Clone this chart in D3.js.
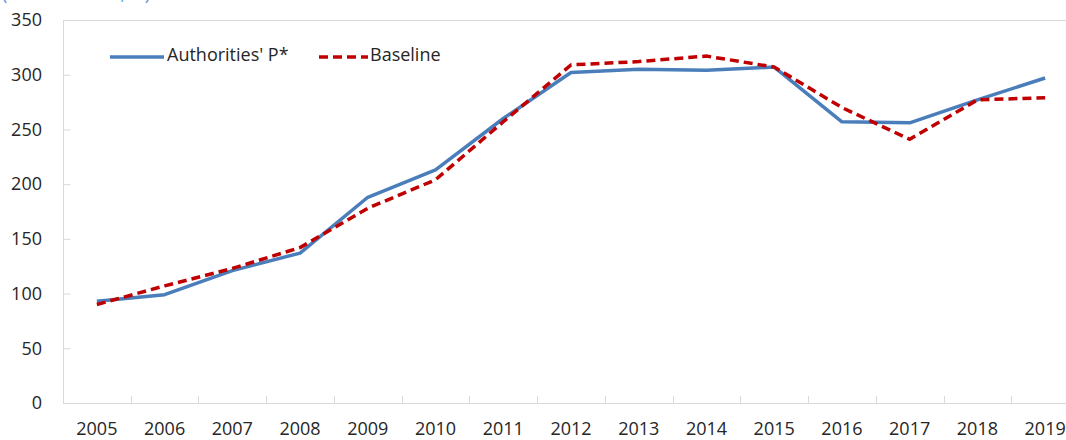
<!DOCTYPE html>
<html><head><meta charset="utf-8">
<script src="https://cdn.jsdelivr.net/npm/d3@7"></script>
<style>body{margin:0;background:#fff;}svg{display:block;font-family:"Open Sans",sans-serif;}</style>
</head><body>
<svg id="c" width="1066" height="440"></svg>
<script>
const years = ["2005","2006","2007","2008","2009","2010","2011","2012","2013","2014","2015","2016","2017","2018","2019"];
const authorities = [93,99,121,137,188,213,260,302,305,304,307,257,256,277,297];
const baseline = [90,107,123,142,178,204,257,309,312,317,307,270,241,277,279];
const yTicks = [0,50,100,150,200,250,300,350];
const seriesNames = ["Authorities' P*","Baseline"];
const unitLabel = "(Billion dollars, %)";

const svg = d3.select("#c");
const L=63, R=1079, T=20, B=403;
const x = d3.scaleBand().domain(years).range([L,R]);
const y = d3.scaleLinear().domain([0,350]).range([B,T]);
const grey="#d9d9d9";
const FS=18;

svg.append("text").attr("x",2).attr("y",0).attr("font-size",FS).attr("fill","#5B9BD5").text(unitLabel);

// frame top
svg.append("line").attr("x1",L).attr("x2",R).attr("y1",T+0.5).attr("y2",T+0.5).attr("stroke",grey);

const yAx = svg.append("g").attr("transform",`translate(${L+0.5},0)`)
  .call(d3.axisRight(y).tickValues(yTicks).tickSize(7).tickFormat(""));
yAx.select(".domain").attr("stroke",grey).attr("d",`M0,${T}V${B}`);
yAx.selectAll(".tick line").attr("stroke",grey);
svg.append("g").selectAll("text").data(yTicks).join("text")
  .attr("x",42).attr("y",d=>y(d)).attr("text-anchor","end").attr("dy","0.35em")
  .attr("font-size",FS).attr("fill","#262626").text(d=>d);

const xAx = svg.append("g").attr("transform",`translate(0,${B+0.5})`)
  .call(d3.axisTop(x).tickSize(0).tickFormat(""));
xAx.select(".domain").attr("stroke",grey).attr("d",`M${L},0H${R}`);
svg.append("g").selectAll("line").data(years.slice(1)).join("line")
  .attr("x1",d=>Math.round(x(d))+0.5).attr("x2",d=>Math.round(x(d))+0.5)
  .attr("y1",B-7).attr("y2",B).attr("stroke",grey);
svg.append("g").selectAll("text").data(years).join("text")
  .attr("x",d=>x(d)+x.bandwidth()/2).attr("y",435)
  .attr("text-anchor","middle").attr("font-size",FS).attr("fill","#262626").text(d=>d);

const line = d3.line().x((d,i)=>x(years[i])+x.bandwidth()/2).y(d=>y(d));
svg.append("path").datum(authorities).attr("d",line).attr("fill","none")
  .attr("stroke","#4A7EBB").attr("stroke-width",3.5).attr("stroke-linejoin","round");
svg.append("path").datum(baseline).attr("d",line).attr("fill","none")
  .attr("stroke","#C00000").attr("stroke-width",3.5).attr("stroke-dasharray","9,5");

// legend
const lg = svg.append("g");
lg.append("line").attr("x1",110).attr("x2",164).attr("y1",57).attr("y2",57).attr("stroke","#4A7EBB").attr("stroke-width",3.5);
lg.append("text").attr("x",167).attr("y",60.5).attr("font-size",FS).attr("fill","#262626").text(seriesNames[0]);
lg.append("line").attr("x1",319).attr("x2",368).attr("y1",57).attr("y2",57).attr("stroke","#C00000").attr("stroke-width",3.5).attr("stroke-dasharray","9,5");
lg.append("text").attr("x",370).attr("y",60.5).attr("font-size",FS).attr("fill","#262626").text(seriesNames[1]);
</script></body></html>
